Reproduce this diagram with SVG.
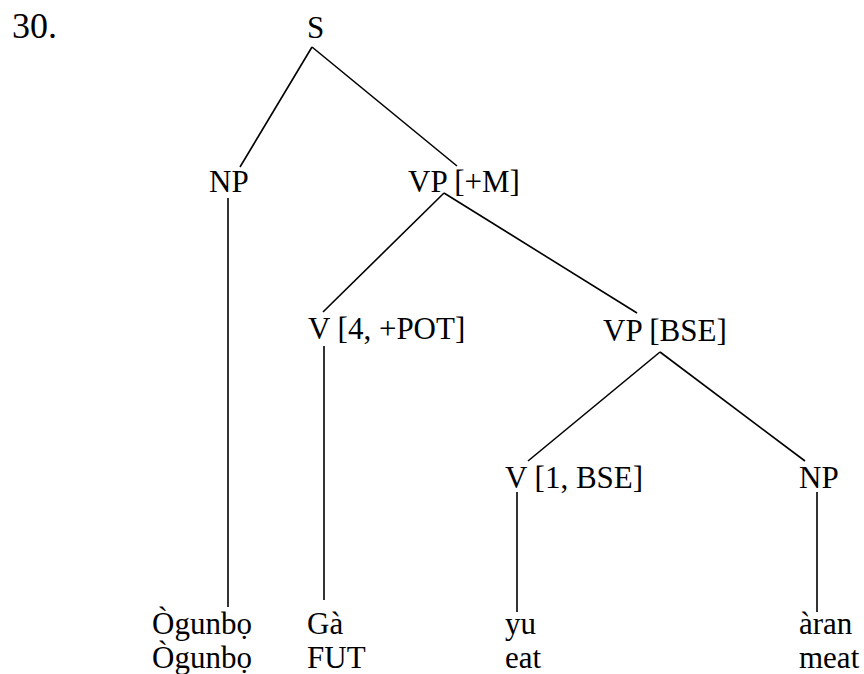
<svg xmlns="http://www.w3.org/2000/svg" width="864" height="674" viewBox="0 0 864 674" font-family="'Liberation Serif', Tinos, 'Times New Roman', 'DejaVu Serif', serif">
  <style>
    text { font-family: "Liberation Serif", Tinos, "Times New Roman", "DejaVu Serif", serif; font-size: 31px; fill: #000; }
    .num { font-size: 36px; }
    .edge { stroke: #000; stroke-width: 1.6; fill: none; stroke-linecap: butt; }
  </style>
  <rect width="864" height="674" fill="#fff"/>

  <text class="num" x="12" y="38">30.</text>

  <!-- tree branches -->
  <g id="connectors">
    <line class="edge" x1="312" y1="47" x2="240" y2="167"/>
    <line class="edge" x1="312" y1="47" x2="457" y2="166"/>
    <line class="edge" x1="444" y1="193" x2="323" y2="312"/>
    <line class="edge" x1="444" y1="193" x2="637" y2="313"/>
    <line class="edge" x1="660" y1="352" x2="528" y2="461"/>
    <line class="edge" x1="660" y1="352" x2="805" y2="461"/>
    <line class="edge" x1="228" y1="198" x2="228" y2="607"/>
    <line class="edge" x1="324" y1="346" x2="324" y2="600"/>
    <line class="edge" x1="517" y1="492" x2="517" y2="612"/>
    <line class="edge" x1="817" y1="492" x2="817" y2="612"/>
  </g>

  <!-- category labels -->
  <g id="node-s"><text x="307" y="38">S</text></g>
  <g id="node-np1"><text x="209" y="192">NP</text></g>
  <g id="node-vp-m"><text x="408" y="192">VP [+M]</text></g>
  <g id="node-v-pot"><text x="308" y="339">V [4, +POT]</text></g>
  <g id="node-vp-bse"><text x="603" y="341">VP [BSE]</text></g>
  <g id="node-v-bse"><text x="505" y="488">V [1, BSE]</text></g>
  <g id="node-np2"><text x="799" y="488">NP</text></g>

  <!-- leaves with glosses -->
  <g id="leaf-ogunbo">
    <text x="152" y="634">Ògunbọ</text>
    <text x="152" y="668">Ògunbọ</text>
  </g>
  <g id="leaf-ga">
    <text x="307" y="634">Gà</text>
    <text x="307" y="668">FUT</text>
  </g>
  <g id="leaf-yu">
    <text x="505" y="634">yu</text>
    <text x="505" y="668">eat</text>
  </g>
  <g id="leaf-aran">
    <text x="799" y="634">àran</text>
    <text x="799" y="668">meat</text>
  </g>
</svg>
